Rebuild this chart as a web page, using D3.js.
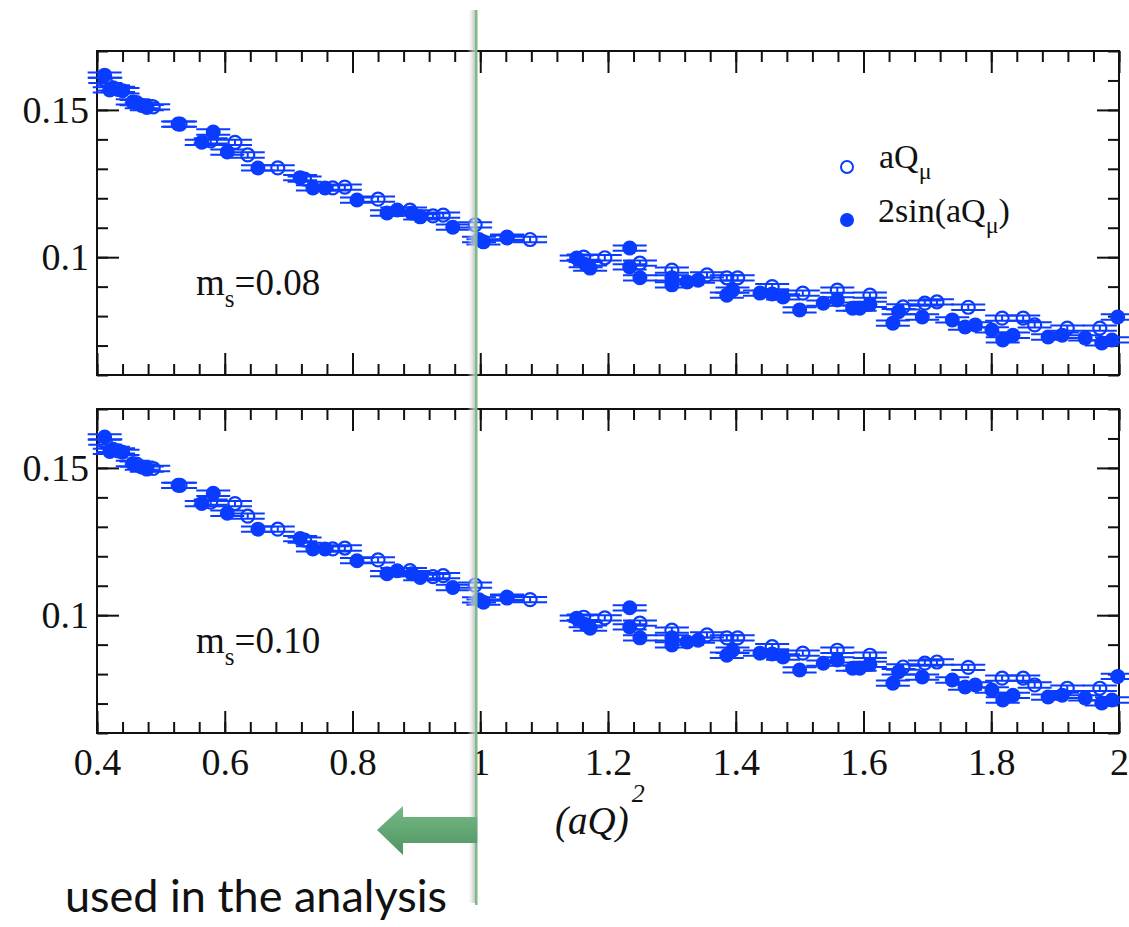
<!DOCTYPE html>
<html><head><meta charset="utf-8">
<script src="https://cdn.jsdelivr.net/npm/d3@7"></script>
<style>body{margin:0;background:#fff;} svg{display:block}</style>
</head><body><svg id="c" width="1129" height="927"></svg>
<script>
// ---------- data ----------
const openX = [0.413,0.425,0.433,0.462,0.488,0.530,0.578,0.616,0.636,0.683,0.725,0.769,0.788,0.840,0.890,0.926,0.942,0.992,1.042,1.078,1.162,1.195,1.250,1.300,1.355,1.386,1.403,1.457,1.505,1.559,1.610,1.662,1.696,1.715,1.764,1.817,1.850,1.868,1.919,1.970];
const openY008 = [0.1600,0.1575,0.1570,0.1525,0.1510,0.1452,0.1395,0.1390,0.1347,0.1303,0.1265,0.1235,0.1238,0.1197,0.1160,0.1140,0.1143,0.1110,0.1068,0.1060,0.1000,0.0998,0.0980,0.0956,0.0940,0.0930,0.0930,0.0900,0.0878,0.0888,0.0871,0.0831,0.0844,0.0848,0.0830,0.0793,0.0793,0.0770,0.0759,0.0759];
const openY010 = [0.1588,0.1563,0.1558,0.1513,0.1498,0.1441,0.1384,0.1379,0.1336,0.1292,0.1255,0.1225,0.1228,0.1188,0.1151,0.1131,0.1134,0.1102,0.1061,0.1053,0.0993,0.0991,0.0973,0.0949,0.0933,0.0923,0.0923,0.0893,0.0871,0.0881,0.0864,0.0824,0.0837,0.0841,0.0823,0.0786,0.0786,0.0763,0.0752,0.0752];
const filledX = [0.412,0.420,0.440,0.456,0.470,0.478,0.527,0.564,0.582,0.604,0.652,0.718,0.738,0.757,0.807,0.854,0.870,0.893,0.906,0.957,0.998,1.005,1.042,1.151,1.165,1.172,1.234,1.234,1.250,1.300,1.300,1.324,1.341,1.386,1.395,1.438,1.457,1.474,1.500,1.537,1.559,1.583,1.594,1.610,1.646,1.655,1.692,1.739,1.759,1.775,1.801,1.818,1.834,1.889,1.911,1.947,1.973,1.989,1.998];
const filledY008 = [0.1618,0.1568,0.1565,0.1527,0.1515,0.1508,0.1452,0.1390,0.1425,0.1357,0.1303,0.1270,0.1235,0.1235,0.1194,0.1150,0.1160,0.1150,0.1137,0.1102,0.1060,0.1052,0.1065,0.0997,0.0975,0.0963,0.1031,0.0967,0.0930,0.0906,0.0930,0.0916,0.0922,0.0871,0.0888,0.0878,0.0875,0.0865,0.0821,0.0844,0.0855,0.0827,0.0827,0.0840,0.0776,0.0815,0.0797,0.0787,0.0763,0.0770,0.0753,0.0719,0.0735,0.0729,0.0735,0.0726,0.0709,0.0719,0.0797];
const filledY010 = [0.1605,0.1556,0.1553,0.1515,0.1503,0.1496,0.1441,0.1379,0.1414,0.1346,0.1292,0.1260,0.1225,0.1225,0.1185,0.1141,0.1151,0.1141,0.1128,0.1094,0.1052,0.1044,0.1058,0.0990,0.0968,0.0956,0.1025,0.0960,0.0923,0.0899,0.0923,0.0909,0.0915,0.0864,0.0881,0.0871,0.0868,0.0858,0.0814,0.0837,0.0848,0.0820,0.0820,0.0833,0.0769,0.0808,0.0790,0.0780,0.0756,0.0763,0.0746,0.0712,0.0728,0.0722,0.0728,0.0719,0.0702,0.0712,0.0792];
const errY = 0.0009;
const xTickValues = [0.4,0.6,0.8,1.0,1.2,1.4,1.6,1.8,2.0];
const xTickLabels = ["0.4","0.6","0.8","1","1.2","1.4","1.6","1.8","2"];
const yTickValues = [0.1,0.15];
const yTickLabels = ["0.1","0.15"];
const panelMass = ["0.08","0.10"];
const legendNames = ["aQ","2sin(aQ"];
const cutX = 1.0;

// ---------- layout ----------
const svg = d3.select("#c");
const L = 97, R = 1119;
const panels = [
  {top:51, bottom:375, open:openY008, filled:filledY008, mass:panelMass[0], labels:false},
  {top:409, bottom:733, open:openY010, filled:filledY010, mass:panelMass[1], labels:true}
];
const x = d3.scaleLinear().domain([0.4,2.0]).range([L,R]);
const blue = "#0a3cff";
const serif = "'Liberation Serif','Times New Roman',serif";
const minorX = d3.range(0.4, 2.0001, 0.04);
const minorY = d3.range(0.06, 0.1701, 0.01);

const defs = svg.append("defs");
const sg = defs.append("linearGradient").attr("id","shadow").attr("x1","0").attr("x2","1");
sg.append("stop").attr("offset","0").attr("stop-color","#fff").attr("stop-opacity",0);
sg.append("stop").attr("offset","0.7").attr("stop-color","#c8c8c8").attr("stop-opacity",0.8);
sg.append("stop").attr("offset","1").attr("stop-color","#b8b8b8").attr("stop-opacity",0.9);
const ag = defs.append("linearGradient").attr("id","arrowg").attr("x1","0").attr("x2","0").attr("y1","0").attr("y2","1");
ag.append("stop").attr("offset","0").attr("stop-color","#76b985");
ag.append("stop").attr("offset","1").attr("stop-color","#4f9462");

panels.forEach((p,i)=>{
  const y = d3.scaleLinear().domain([0.06,0.17]).range([p.bottom,p.top]);
  const g = svg.append("g");
  const H = p.bottom - p.top, W = R - L;
  function ax(gen, tr){
    const a = g.append("g").attr("transform",tr).call(gen);
    a.select(".domain").remove();
    a.selectAll("line").attr("stroke","#111").attr("stroke-width",2);
    return a;
  }
  // minor ticks
  ax(d3.axisBottom(x).tickValues(minorX).tickSize(-11).tickFormat(""), `translate(0,${p.bottom})`);
  ax(d3.axisTop(x).tickValues(minorX).tickSize(-11).tickFormat(""), `translate(0,${p.top})`);
  ax(d3.axisLeft(y).tickValues(minorY).tickSize(-11).tickFormat(""), `translate(${L},0)`);
  ax(d3.axisRight(y).tickValues(minorY).tickSize(-11).tickFormat(""), `translate(${R},0)`);
  // major ticks
  const bx = ax(d3.axisBottom(x).tickValues(xTickValues).tickSize(-22).tickPadding(15)
      .tickFormat((d,k)=>p.labels?xTickLabels[k]:""), `translate(0,${p.bottom})`);
  ax(d3.axisTop(x).tickValues(xTickValues).tickSize(-22).tickFormat(""), `translate(0,${p.top})`);
  const ly = ax(d3.axisLeft(y).tickValues(yTickValues).tickSize(-22).tickPadding(8)
      .tickFormat((d,k)=>yTickLabels[k]), `translate(${L},0)`);
  ax(d3.axisRight(y).tickValues(yTickValues).tickSize(-22).tickFormat(""), `translate(${R},0)`);
  [bx,ly].forEach(a=>a.selectAll("text").attr("font-family",serif).attr("font-size",38).attr("fill","#111"));
  // frame
  g.append("rect").attr("x",L).attr("y",p.top).attr("width",W).attr("height",H)
    .attr("fill","none").attr("stroke","#111").attr("stroke-width",2);

  // points
  function drawSeries(xs, ys, open){
    const s = g.append("g");
    xs.forEach((xv,k)=>{
      const cx = x(xv), cy = y(ys[k]);
      const y1 = y(ys[k]+errY), y2 = y(ys[k]-errY);
      s.append("line").attr("x1",cx).attr("x2",cx).attr("y1",y1).attr("y2",y2).attr("stroke",blue).attr("stroke-width",2);
      [y1,y2].forEach(yy=>s.append("line").attr("x1",cx-17).attr("x2",cx+17).attr("y1",yy).attr("y2",yy)
        .attr("stroke",blue).attr("stroke-width",2));
      s.append("circle").attr("cx",cx).attr("cy",cy).attr("r",open?6.5:7.5)
        .attr("fill",open?"none":blue).attr("stroke",blue).attr("stroke-width",open?2.2:0);
    });
  }
  drawSeries(filledX, p.filled, false);
  drawSeries(openX, p.open, true);

  // mass label
  const t = g.append("text").attr("x",196).attr("y",p.top + 244)
    .attr("font-family",serif).attr("font-size",37).attr("fill","#111");
  t.append("tspan").text("m");
  t.append("tspan").attr("font-size",25).attr("dy",12).text("s");
  t.append("tspan").attr("dy",-12).text("=" + p.mass);

  if(i===0){
    const lg = g.append("g");
    lg.append("circle").attr("cx",847).attr("cy",167).attr("r",6).attr("fill","none").attr("stroke",blue).attr("stroke-width",2);
    lg.append("circle").attr("cx",847).attr("cy",220).attr("r",7).attr("fill",blue);
    const t1 = lg.append("text").attr("x",879).attr("y",168).attr("font-family",serif).attr("font-size",34).attr("fill","#111");
    t1.append("tspan").text(legendNames[0]);
    t1.append("tspan").attr("font-size",24).attr("dy",11).text("μ");
    const t2 = lg.append("text").attr("x",878).attr("y",222).attr("font-family",serif).attr("font-size",34).attr("fill","#111");
    t2.append("tspan").text(legendNames[1]);
    t2.append("tspan").attr("font-size",24).attr("dy",11).text("μ");
    t2.append("tspan").attr("dy",-11).text(")");
  }
});

// x-axis title
const xt = svg.append("text").attr("x",555).attr("y",834).attr("font-family",serif)
  .attr("font-style","italic").attr("font-size",39).attr("fill","#111");
xt.append("tspan").text("(aQ)");
xt.append("tspan").attr("font-size",26).attr("dy",-32).attr("dx",3).text("2");

// cut line with shadow
const cx0 = x(cutX) - 4;
svg.append("rect").attr("x",cx0-9).attr("y",10).attr("width",9).attr("height",893).attr("fill","url(#shadow)");
svg.append("line").attr("x1",cx0).attr("x2",cx0).attr("y1",10).attr("y2",905)
  .attr("stroke","#7dba8a").attr("stroke-width",2.5);

// arrow
svg.append("path")
  .attr("d",`M${cx0+1},817 L403,817 L403,806 L377,830 L403,855 L403,843 L${cx0+1},843 Z`)
  .attr("fill","url(#arrowg)");

svg.append("text").attr("x",65).attr("y",912).attr("font-family","Lato, 'Open Sans', sans-serif")
  .attr("font-size",45).attr("fill","#111").text("used in the analysis");
</script>
</body></html>
